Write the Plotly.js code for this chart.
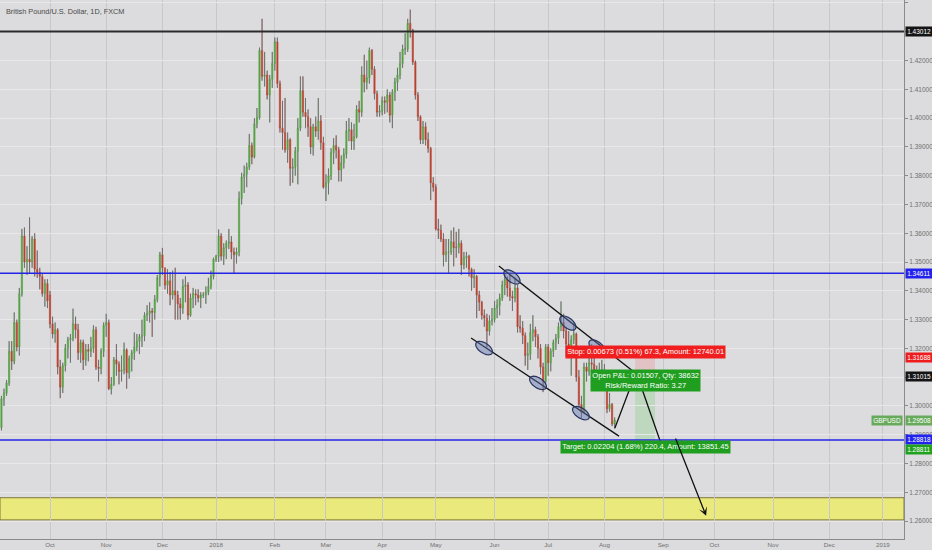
<!DOCTYPE html>
<html>
<head>
<meta charset="utf-8">
<script src="https://cdn.plot.ly/plotly-3.0.1.min.js"></script>
<style>
  html, body { margin: 0; padding: 0; background: #dcdcde; }
  #chart { width: 932px; height: 550px; }
</style>
</head>
<body>
<div id="chart"></div>
<script>
// GBPUSD daily bars, one per trading day starting Mon 2017-09-04 (weekends skipped like TradingView)
const startDate = '2017-09-04';

const opens = [
  1.2935,1.2925,1.3025,1.3045,1.3080,1.3190,1.3155,1.3290,1.3205,1.3390,
  1.3590,1.3500,1.3510,1.3500,1.3580,1.3475,1.3465,1.3450,1.3390,1.3425,
  1.3385,1.3285,1.3250,1.3265,1.3135,1.3065,1.3140,1.3200,1.3230,1.3235,
  1.3285,1.3265,1.3185,1.3220,1.3160,1.3195,1.3190,1.3200,1.3265,1.3135,
  1.3130,1.3190,1.3280,1.3290,1.3060,1.3075,1.3160,1.3145,1.3120,1.3125,
  1.3195,1.3115,1.3165,1.3185,1.3205,1.3225,1.3240,1.3245,1.3315,1.3320,
  1.3330,1.3325,1.3370,1.3445,1.3525,1.3480,1.3420,1.3435,1.3385,1.3400,
  1.3385,1.3355,1.3340,1.3415,1.3420,1.3315,1.3375,1.3390,1.3385,1.3375,
  1.3385,1.3385,1.3395,1.3415,1.3450,1.3510,1.3520,1.3590,1.3520,1.3550,
  1.3565,1.3570,1.3535,1.3525,1.3535,1.3720,1.3795,1.3805,1.3830,1.3905,
  1.3865,1.3980,1.4000,1.4235,1.4145,1.4150,1.4080,1.4135,1.4190,1.4265,
  1.4120,1.3965,1.3950,1.3890,1.3925,1.3825,1.3830,1.3885,1.3965,1.4095,
  1.4020,1.4005,1.3970,1.3900,1.3970,1.3955,1.3990,1.3915,1.3760,1.3775,
  1.3800,1.3880,1.3905,1.3890,1.3820,1.3845,1.3875,1.3955,1.3960,1.3920,
  1.3935,1.4030,1.4020,1.4150,1.4125,1.4140,1.4235,1.4170,1.4085,1.4020,
  1.4025,1.4060,1.4055,1.4080,1.4010,1.4090,1.4125,1.4150,1.4190,1.4240,
  1.4240,1.4330,1.4305,1.4195,1.4080,1.4005,1.3925,1.3970,1.3925,1.3895,
  1.3775,1.3760,1.3615,1.3610,1.3580,1.3525,1.3535,1.3535,1.3570,1.3550,
  1.3550,1.3565,1.3490,1.3515,1.3520,1.3475,1.3445,1.3450,1.3385,1.3360,
  1.3315,1.3305,1.3260,1.3295,1.3300,1.3340,1.3350,1.3375,1.3420,1.3440,
  1.3410,1.3380,1.3375,1.3410,1.3275,1.3270,1.3245,1.3175,1.3180,1.3255,
  1.3265,1.3240,1.3200,1.3135,1.3085,1.3205,1.3150,1.3190,1.3220,1.3235,
  1.3275,1.3290,1.3260,1.3215,1.3190,1.3230,1.3250,1.3100,1.3005,1.2980,
  1.3135,1.3120,1.3150,1.3145,1.3100,1.3105,1.3125,1.3125,1.3070,1.2990,
  1.3005,1.2937
];
const highs = [
  1.2960,1.3035,1.3060,1.3090,1.3225,1.3225,1.3325,1.3300,1.3410,1.3615,
  1.3620,1.3555,1.3655,1.3590,1.3600,1.3540,1.3480,1.3460,1.3440,1.3440,
  1.3400,1.3310,1.3290,1.3270,1.3160,1.3150,1.3215,1.3240,1.3250,1.3338,
  1.3310,1.3285,1.3230,1.3230,1.3215,1.3215,1.3240,1.3280,1.3275,1.3160,
  1.3200,1.3290,1.3320,1.3300,1.3100,1.3170,1.3215,1.3155,1.3175,1.3220,
  1.3200,1.3175,1.3195,1.3255,1.3250,1.3250,1.3300,1.3325,1.3350,1.3360,
  1.3340,1.3385,1.3455,1.3535,1.3549,1.3480,1.3475,1.3465,1.3470,1.3480,
  1.3400,1.3375,1.3440,1.3450,1.3430,1.3390,1.3410,1.3405,1.3405,1.3395,
  1.3395,1.3415,1.3445,1.3470,1.3515,1.3525,1.3613,1.3600,1.3565,1.3575,
  1.3615,1.3590,1.3550,1.3550,1.3745,1.3810,1.3835,1.3845,1.3945,1.3915,
  1.4000,1.4035,1.4245,1.4345,1.4230,1.4165,1.4150,1.4230,1.4280,1.4280,
  1.4130,1.4060,1.4070,1.3950,1.3930,1.3860,1.3900,1.4000,1.4145,1.4145,
  1.4070,1.4030,1.4000,1.3980,1.4005,1.4070,1.4010,1.3935,1.3805,1.3825,
  1.3895,1.3930,1.3940,1.3900,1.3870,1.3895,1.3990,1.4000,1.3985,1.3980,
  1.4045,1.4060,1.4180,1.4220,1.4200,1.4245,1.4240,1.4180,1.4095,1.4045,
  1.4075,1.4075,1.4100,1.4090,1.4100,1.4140,1.4175,1.4230,1.4255,1.4295,
  1.4345,1.4377,1.4310,1.4200,1.4090,1.4010,1.3990,1.3985,1.3950,1.3900,
  1.3795,1.3770,1.3650,1.3630,1.3600,1.3580,1.3580,1.3610,1.3620,1.3605,
  1.3615,1.3575,1.3535,1.3535,1.3525,1.3480,1.3475,1.3455,1.3400,1.3365,
  1.3335,1.3320,1.3315,1.3340,1.3365,1.3370,1.3390,1.3435,1.3460,1.3450,
  1.3455,1.3400,1.3445,1.3420,1.3315,1.3295,1.3255,1.3220,1.3285,1.3315,
  1.3275,1.3250,1.3215,1.3150,1.3215,1.3215,1.3200,1.3230,1.3250,1.3290,
  1.3363,1.3320,1.3275,1.3260,1.3245,1.3290,1.3255,1.3125,1.3035,1.3150,
  1.3150,1.3205,1.3215,1.3175,1.3140,1.3150,1.3160,1.3145,1.3080,1.3045,
  1.3010,1.2960
];
const lows = [
  1.2905,1.2915,1.3000,1.3035,1.3070,1.3125,1.3145,1.3190,1.3175,1.3380,
  1.3480,1.3455,1.3460,1.3480,1.3450,1.3445,1.3405,1.3380,1.3345,1.3340,
  1.3270,1.3235,1.3220,1.3110,1.3027,1.3045,1.3120,1.3165,1.3150,1.3225,
  1.3235,1.3160,1.3150,1.3125,1.3140,1.3155,1.3170,1.3185,1.3125,1.3085,
  1.3110,1.3170,1.3240,1.3055,1.3040,1.3070,1.3105,1.3075,1.3085,1.3110,
  1.3060,1.3095,1.3120,1.3160,1.3190,1.3180,1.3205,1.3225,1.3295,1.3290,
  1.3240,1.3300,1.3360,1.3415,1.3455,1.3405,1.3390,1.3350,1.3370,1.3300,
  1.3300,1.3300,1.3320,1.3360,1.3300,1.3310,1.3340,1.3350,1.3360,1.3340,
  1.3375,1.3355,1.3385,1.3405,1.3440,1.3500,1.3500,1.3505,1.3490,1.3510,
  1.3545,1.3510,1.3460,1.3495,1.3520,1.3700,1.3740,1.3760,1.3820,1.3840,
  1.3860,1.3965,1.3995,1.4130,1.4110,1.4065,1.3985,1.4105,1.4165,1.4105,
  1.3950,1.3890,1.3880,1.3845,1.3765,1.3775,1.3800,1.3770,1.3955,1.4005,
  1.3965,1.3935,1.3875,1.3870,1.3935,1.3925,1.3890,1.3755,1.3712,1.3735,
  1.3785,1.3840,1.3860,1.3780,1.3780,1.3825,1.3860,1.3920,1.3890,1.3890,
  1.3930,1.3985,1.4005,1.4090,1.4100,1.4120,1.4150,1.4065,1.4005,1.4005,
  1.4010,1.4015,1.4020,1.3985,1.3965,1.4060,1.4095,1.4135,1.4175,1.4220,
  1.4230,1.4280,1.4185,1.4065,1.3990,1.3910,1.3910,1.3905,1.3880,1.3715,
  1.3745,1.3610,1.3580,1.3570,1.3485,1.3500,1.3460,1.3525,1.3485,1.3515,
  1.3530,1.3455,1.3475,1.3480,1.3450,1.3400,1.3410,1.3305,1.3330,1.3300,
  1.3275,1.3204,1.3245,1.3280,1.3290,1.3305,1.3315,1.3365,1.3385,1.3380,
  1.3365,1.3330,1.3360,1.3255,1.3255,1.3215,1.3140,1.3125,1.3160,1.3225,
  1.3205,1.3165,1.3110,1.3048,1.3075,1.3105,1.3120,1.3170,1.3195,1.3215,
  1.3260,1.3235,1.3170,1.3175,1.3105,1.3215,1.3085,1.2995,1.2957,1.2975,
  1.3085,1.3105,1.3120,1.3080,1.3065,1.3100,1.3095,1.3055,1.2975,1.2980,
  1.2930,1.2921
];
const closes = [
  1.2925,1.3025,1.3045,1.3080,1.3190,1.3155,1.3290,1.3205,1.3390,1.3590,
  1.3500,1.3510,1.3500,1.3580,1.3475,1.3465,1.3450,1.3390,1.3425,1.3365,
  1.3285,1.3250,1.3265,1.3135,1.3065,1.3140,1.3200,1.3230,1.3235,1.3285,
  1.3265,1.3185,1.3220,1.3160,1.3195,1.3190,1.3200,1.3265,1.3135,1.3130,
  1.3190,1.3280,1.3290,1.3060,1.3075,1.3160,1.3145,1.3120,1.3125,1.3195,
  1.3115,1.3165,1.3185,1.3205,1.3225,1.3240,1.3245,1.3315,1.3320,1.3330,
  1.3325,1.3370,1.3445,1.3525,1.3480,1.3420,1.3435,1.3385,1.3400,1.3385,
  1.3355,1.3340,1.3415,1.3420,1.3315,1.3375,1.3390,1.3385,1.3375,1.3385,
  1.3385,1.3395,1.3415,1.3450,1.3510,1.3520,1.3590,1.3520,1.3550,1.3565,
  1.3570,1.3535,1.3525,1.3535,1.3720,1.3795,1.3805,1.3830,1.3905,1.3865,
  1.3980,1.4000,1.4235,1.4145,1.4150,1.4080,1.4135,1.4190,1.4265,1.4120,
  1.3965,1.3950,1.3890,1.3925,1.3825,1.3830,1.3885,1.3965,1.4095,1.4020,
  1.4005,1.3970,1.3900,1.3970,1.3955,1.3990,1.3915,1.3760,1.3775,1.3800,
  1.3880,1.3905,1.3890,1.3820,1.3845,1.3875,1.3955,1.3960,1.3920,1.3935,
  1.4030,1.4020,1.4150,1.4125,1.4140,1.4235,1.4170,1.4085,1.4020,1.4025,
  1.4060,1.4055,1.4080,1.4010,1.4090,1.4125,1.4150,1.4190,1.4240,1.4240,
  1.4330,1.4305,1.4195,1.4080,1.4005,1.3925,1.3970,1.3925,1.3895,1.3775,
  1.3760,1.3615,1.3610,1.3580,1.3525,1.3535,1.3535,1.3570,1.3550,1.3550,
  1.3565,1.3490,1.3515,1.3520,1.3475,1.3445,1.3450,1.3385,1.3360,1.3315,
  1.3305,1.3260,1.3295,1.3300,1.3340,1.3350,1.3375,1.3420,1.3440,1.3410,
  1.3380,1.3375,1.3410,1.3275,1.3270,1.3245,1.3175,1.3180,1.3255,1.3265,
  1.3240,1.3200,1.3135,1.3085,1.3205,1.3150,1.3190,1.3220,1.3235,1.3275,
  1.3290,1.3260,1.3215,1.3190,1.3230,1.3250,1.3100,1.3005,1.2980,1.3135,
  1.3120,1.3150,1.3145,1.3100,1.3105,1.3125,1.3125,1.3070,1.2990,1.3005,
  1.2937,1.2951
];

// x axis: first trading day of each month
const monthTickDates = ['2017-10-02','2017-11-01','2017-12-01','2018-01-01','2018-02-01','2018-03-01',
  '2018-04-02','2018-05-01','2018-06-01','2018-07-02','2018-08-01','2018-09-03',
  '2018-10-01','2018-11-01','2018-12-03','2019-01-01'];
const monthTickText = ['Oct','Nov','Dec','2018','Feb','Mar','Apr','May','Jun','Jul','Aug','Sep','Oct','Nov','Dec','2019'];
const priceTicks = [1.26,1.27,1.28,1.29,1.30,1.31,1.32,1.33,1.34,1.35,1.36,1.37,1.38,1.39,1.40,1.41,1.42,1.43,1.44];
// these two grid labels sit under the price tags and are not visible on the chart
const hiddenTickLabels = [1.31, 1.43];

// horizontal levels drawn on the chart
const resistanceTop = 1.43012;
const blueLevels = [1.34611, 1.28818];
const yellowZone = [1.2604, 1.2681];

// short position tool
const entryPrice = 1.31015;
const stopPrice = 1.31688;
const targetPrice = 1.28811;
const lastPrice = 1.29508;
const positionBars = [249.0, 256.8];

// channel + touch points (bar index, price)
const upperChannel = { x: [195.7, 248.6], y: [1.3486, 1.3118] };
const lowerChannel = { x: [184.8, 242.7], y: [1.3236, 1.2895] };
const upperTouches = { x: [200.8, 222.7, 234.1], y: [1.3448, 1.3288, 1.3205] };
const lowerTouches = { x: [189.9, 211.0, 227.8], y: [1.3201, 1.3080, 1.2975] };

// projected path
const pathBars = [241.1, 249.4, 260.3];
const pathPrices = [1.2923, 1.3118, 1.2840];
const arrowFrom = [264.6, 1.2892];
const arrowTo = [276.8, 1.2618];

const W = 932, H = 550;
const margin = { l: 0, r: 28, t: 0, b: 11 };
const xRange = [0.43, 354.25];
const yRange = [1.25376, 1.44104];
const pxPerBar = (W - margin.l - margin.r) / (xRange[1] - xRange[0]);
const pxPerPrice = (H - margin.t - margin.b) / (yRange[1] - yRange[0]);

function tradingIndex(dateStr) {
    const d0 = new Date(startDate + 'T00:00:00Z');
    const d1 = new Date(dateStr + 'T00:00:00Z');
    let n = 0;
    for (let d = new Date(d0); d < d1; d.setUTCDate(d.getUTCDate() + 1)) {
        const wd = d.getUTCDay();
        if (wd !== 0 && wd !== 6) n++;
    }
    return n;
}

function ellipsePath(cx, cy, line, a, b) {
    // angle of the channel line in pixel space
    const ang = Math.atan2(-(line.y[1] - line.y[0]) * pxPerPrice, (line.x[1] - line.x[0]) * pxPerBar);
    const pts = [];
    for (let k = 0; k < 36; k++) {
        const t = 2 * Math.PI * k / 36;
        const px = a * Math.cos(t) * Math.cos(ang) - b * Math.sin(t) * Math.sin(ang);
        const py = a * Math.cos(t) * Math.sin(ang) + b * Math.sin(t) * Math.cos(ang);
        pts.push((cx + px / pxPerBar).toFixed(3) + ',' + (cy - py / pxPerPrice).toFixed(5));
    }
    return 'M' + pts.join('L') + 'Z';
}

const barIdx = closes.map((_, i) => i);

// gray wicks outside the bodies (TradingView style)
const wickX = [], wickY = [];
for (let i = 0; i < closes.length; i++) {
    const top = Math.max(opens[i], closes[i]);
    const bot = Math.min(opens[i], closes[i]);
    wickX.push(i, i, null, i, i, null);
    wickY.push(highs[i], top, null, bot, lows[i], null);
}

const candles = {
    type: 'candlestick',
    x: barIdx, open: opens, high: highs, low: lows, close: closes,
    increasing: { line: { color: '#4e9a3c', width: 0.6 }, fillcolor: '#58a845' },
    decreasing: { line: { color: '#b23d2c', width: 0.6 }, fillcolor: '#c2432f' },
    whiskerwidth: 0,
    hoverinfo: 'skip',
    showlegend: false
};

const wicks = {
    type: 'scatter', mode: 'lines', x: wickX, y: wickY,
    line: { color: '#707072', width: 1 }, hoverinfo: 'skip', showlegend: false
};

const tradePath = {
    type: 'scatter', mode: 'lines', x: pathBars, y: pathPrices,
    line: { color: '#111', width: 1.3 }, hoverinfo: 'skip', showlegend: false
};

const lineShape = (x0, y0, x1, y1, color, width) => ({
    type: 'line', xref: 'x', yref: 'y', x0, y0, x1, y1, line: { color, width }
});
const levelShape = (y, color, width) => ({
    type: 'line', xref: 'paper', yref: 'y', x0: 0, x1: 1, y0: y, y1: y, line: { color, width }
});

const shapes = [
    { type: 'rect', xref: 'paper', yref: 'y', x0: 0, x1: 1, y0: yellowZone[0], y1: yellowZone[1],
      fillcolor: '#eaea7c', line: { color: 'rgba(110,100,40,0.85)', width: 1 }, layer: 'below' },
    { type: 'rect', xref: 'x', yref: 'y', x0: positionBars[0], x1: positionBars[1], y0: entryPrice, y1: stopPrice,
      fillcolor: 'rgba(255,70,70,0.16)', line: { width: 0 }, layer: 'below' },
    { type: 'rect', xref: 'x', yref: 'y', x0: positionBars[0], x1: positionBars[1], y0: targetPrice, y1: entryPrice,
      fillcolor: 'rgba(40,190,40,0.17)', line: { width: 0 }, layer: 'below' },
    levelShape(resistanceTop, '#2b2b2b', 2),
    levelShape(blueLevels[0], '#2424e6', 1.5),
    levelShape(blueLevels[1], '#2424e6', 1.5),
    lineShape(upperChannel.x[0], upperChannel.y[0], upperChannel.x[1], upperChannel.y[1], '#111', 1.3),
    lineShape(lowerChannel.x[0], lowerChannel.y[0], lowerChannel.x[1], lowerChannel.y[1], '#111', 1.3)
];

upperTouches.x.forEach((x, i) => shapes.push({
    type: 'path', xref: 'x', yref: 'y', path: ellipsePath(x, upperTouches.y[i], upperChannel, 9.5, 5),
    fillcolor: 'rgba(95,115,175,0.45)', line: { color: '#28355f', width: 1.2 }
}));
lowerTouches.x.forEach((x, i) => shapes.push({
    type: 'path', xref: 'x', yref: 'y', path: ellipsePath(x, lowerTouches.y[i], lowerChannel, 9.5, 5),
    fillcolor: 'rgba(95,115,175,0.45)', line: { color: '#28355f', width: 1.2 }
}));

const axisFont = { family: 'Liberation Sans, Arial, sans-serif', size: 6.5, color: '#6f6f6f' };
const tagFont = { family: 'Liberation Sans, Arial, sans-serif', size: 6.5, color: '#ffffff' };
const boxFont = { family: 'Liberation Sans, Arial, sans-serif', size: 7.5, color: '#ffffff' };

const priceTag = (y, text, bg, yshift) => ({
    xref: 'paper', yref: 'y', x: 1, y, xanchor: 'left', yanchor: 'middle', xshift: 1, yshift: yshift || 0,
    text, showarrow: false, bgcolor: bg, borderpad: 1.2, font: tagFont
});
const midBars = (positionBars[0] + positionBars[1]) / 2;

const annotations = [
    { xref: 'paper', yref: 'paper', x: 0.004, y: 1, xanchor: 'left', yanchor: 'top', yshift: -5,
      text: 'British Pound/U.S. Dollar, 1D, FXCM', showarrow: false,
      font: { family: 'Liberation Sans, Arial, sans-serif', size: 7.3, color: '#4a4a4a' } },
    priceTag(resistanceTop, resistanceTop.toFixed(5), '#141414'),
    priceTag(blueLevels[0], blueLevels[0].toFixed(5), '#2222ee'),
    priceTag(stopPrice, stopPrice.toFixed(5), '#ee1c1c'),
    priceTag(entryPrice, entryPrice.toFixed(5), '#141414'),
    priceTag(lastPrice, lastPrice.toFixed(5), '#68aa5c'),
    priceTag(blueLevels[1], blueLevels[1].toFixed(5), '#2222ee'),
    priceTag(targetPrice, targetPrice.toFixed(5), '#20a220', -9),
    { xref: 'paper', yref: 'y', x: 1, y: lastPrice, xanchor: 'right', yanchor: 'middle', xshift: -1,
      text: 'GBPUSD', showarrow: false, bgcolor: '#68aa5c', borderpad: 1.2, font: tagFont },
    { xref: 'x', yref: 'y', x: midBars, y: 1.31891, text: 'Stop: 0.00673 (0.51%) 67.3, Amount: 12740.01',
      showarrow: false, bgcolor: '#f01e1e', borderpad: 1.3, font: boxFont },
    { xref: 'x', yref: 'y', x: midBars, y: 1.30883, text: 'Open P&amp;L: 0.01507, Qty: 38632<br>Risk/Reward Ratio: 3.27',
      showarrow: false, bgcolor: '#1f9e1f', borderpad: 1.3, font: boxFont },
    { xref: 'x', yref: 'y', x: midBars, y: 1.28573, text: 'Target: 0.02204 (1.68%) 220.4, Amount: 13851.45',
      showarrow: false, bgcolor: '#1f9e1f', borderpad: 1.3, font: boxFont },
    { xref: 'x', yref: 'y', axref: 'x', ayref: 'y', x: arrowTo[0], y: arrowTo[1], ax: arrowFrom[0], ay: arrowFrom[1],
      text: '', showarrow: true, arrowhead: 3, arrowsize: 1.1, arrowwidth: 1.3, arrowcolor: '#111' }
];

const layout = {
    width: W, height: H, margin,
    paper_bgcolor: '#dcdcde', plot_bgcolor: '#dcdcde',
    showlegend: false, hovermode: false, dragmode: false,
    font: { family: 'Liberation Sans, Arial, sans-serif' },
    xaxis: {
        type: 'linear', range: xRange, rangeslider: { visible: false },
        tickmode: 'array', tickvals: monthTickDates.map(tradingIndex), ticktext: monthTickText,
        tickfont: { family: 'Liberation Sans, Arial, sans-serif', size: 6.2, color: '#6f6f6f' },
        showgrid: true, gridcolor: '#c8c8ca', gridwidth: 1,
        showline: true, linecolor: '#8a8a8c', linewidth: 1,
        ticks: '', zeroline: false, fixedrange: true
    },
    yaxis: {
        side: 'right', range: yRange, tickmode: 'array', tickvals: priceTicks,
        ticktext: priceTicks.map(v => hiddenTickLabels.includes(v) ? '' : v.toFixed(5)),
        tickfont: axisFont, showgrid: true, gridcolor: '#e8e8e9', gridwidth: 1,
        showline: true, linecolor: '#8a8a8c', linewidth: 1,
        ticks: 'outside', ticklen: 3, tickcolor: '#8a8a8c', zeroline: false, fixedrange: true
    },
    shapes, annotations
};

Plotly.newPlot('chart', [candles, wicks, tradePath], layout, { displayModeBar: false, staticPlot: true });
</script>
</body>
</html>
